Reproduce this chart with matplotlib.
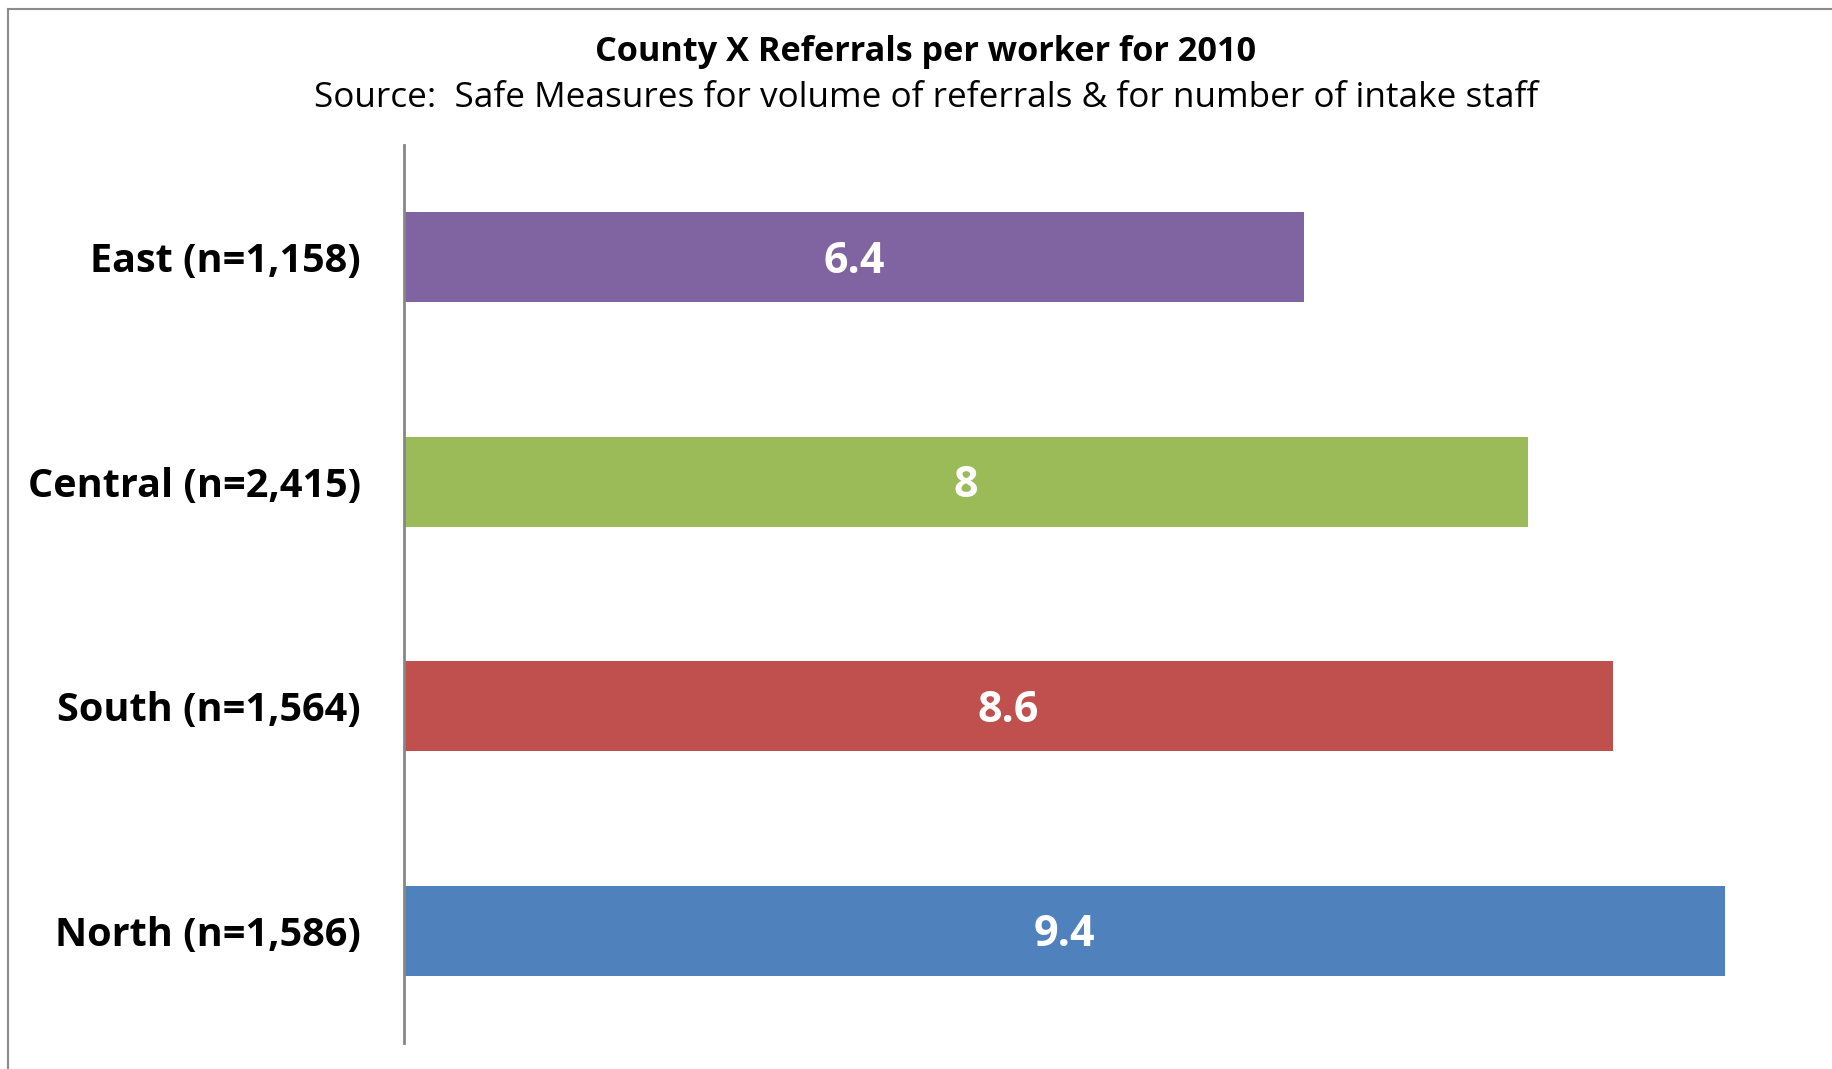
import matplotlib
matplotlib.use('Agg')
import matplotlib.pyplot as plt
from matplotlib.lines import Line2D

# Datos de la grafica (de abajo hacia arriba)
regions = ['North (n=1,586)', 'South (n=1,564)', 'Central (n=2,415)', 'East (n=1,158)']
referrals = [9.4, 8.6, 8, 6.4]
value_labels = ['9.4', '8.6', '8', '6.4']
colors = ['#4F81BD', '#C0504D', '#9BBB59', '#8064A2']

title = 'County X Referrals per worker for 2010'
subtitle = 'Source:  Safe Measures for volume of referrals & for number of intake staff'

plt.rcParams['font.family'] = ['Open Sans', 'DejaVu Sans']

W, H = 1833, 1069
fig = plt.figure(figsize=(W / 100, H / 100), dpi=100)
ax = fig.add_axes([404 / W, 1 - 1043 / H, (1809.5 - 404) / W, (1043 - 145) / H])

y = list(range(len(regions)))
ax.barh(y, referrals, height=0.4, color=colors)
ax.set_xlim(0, 10)
ax.set_ylim(-0.5, len(regions) - 0.5)

# Etiquetas de valor centradas en cada barra
for yi, v, lab in zip(y, referrals, value_labels):
    ax.annotate(lab, (v / 2, yi), xytext=(0, -3), textcoords='offset points',
                ha='center', va='center', color='white',
                fontsize=31, fontweight='bold')

ax.set_yticks(y)
ax.set_yticklabels(regions, fontsize=28.5, fontweight='bold')
ax.tick_params(axis='y', length=0, pad=31)
ax.set_xticks([])
for s in ['top', 'right', 'bottom']:
    ax.spines[s].set_visible(False)
ax.spines['left'].set_color('#868686')
ax.spines['left'].set_linewidth(2)

fig.text(926 / W, 1 - 61 / H, title, ha='center', va='baseline',
         fontsize=24.7, fontweight='bold')
fig.text(926 / W, 1 - 107 / H, subtitle, ha='center', va='baseline', fontsize=25.3)

# borde del grafico
border = dict(color='#8C8C8C', linewidth=1.5)
fig.add_artist(Line2D([8 / W, 8 / W], [0, 1 - 9 / H], **border))
fig.add_artist(Line2D([8 / W, 1], [1 - 9 / H, 1 - 9 / H], **border))

fig.savefig('out.png', dpi=100)
